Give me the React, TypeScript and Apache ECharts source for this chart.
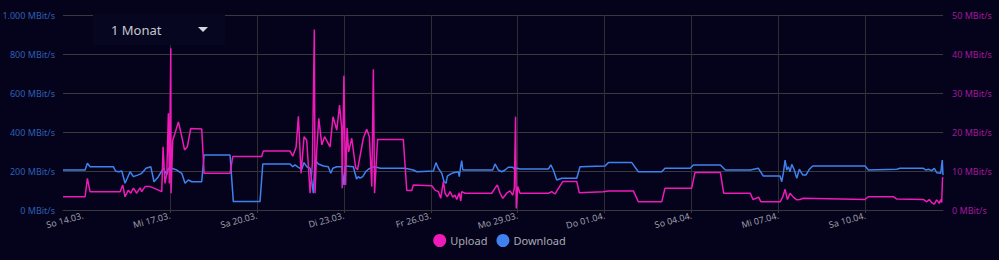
import React, { useEffect, useRef } from "react";
import * as echarts from "echarts";

// Time is measured in hours from So 14.03. 00:00
const xTickHours = [0, 72, 144, 216, 288, 360, 432, 504, 576, 648];
const xTickLabels = [
  "So 14.03.", "Mi 17.03.", "Sa 20.03.", "Di 23.03.", "Fr 26.03.",
  "Mo 29.03.", "Do 01.04.", "So 04.04.", "Mi 07.04.", "Sa 10.04.",
];
const rangeStart = -16.7;
const rangeEnd = 712.3;

// Download throughput, MBit/s (left axis)
const downloadTimes = [
  -16.7, 1.6, 3.5, 5.7, 25.0, 26.8, 29.2, 32.0, 34.7, 38.9, 41.6, 45.7, 48.5, 52.1, 56.0,
  58.7, 62.3, 66.4, 69.3, 70.6, 73.4, 77.5, 81.7, 84.4, 87.1, 90.0, 98.2, 100.2, 121.7,
  124.4, 146.5, 148.8, 171.4, 173.6, 175.5, 178.3, 181.1, 183.0, 185.2, 188.0, 190.7,
  192.1, 194.8, 199.0, 203.1, 205.1, 206.8, 210.1, 214.2, 216.1, 217.0, 223.8, 226.5,
  228.0, 229.4, 231.6, 234.0, 236.3, 239.1, 241.8, 246.0, 266.7, 273.5, 276.4, 290.1,
  292.3, 294.2, 297.1, 299.0, 300.6, 301.7, 304.5, 306.7, 310.8, 311.6, 312.8, 313.6,
  314.5, 339.3, 341.2, 344.0, 346.8, 349.5, 352.2, 355.9, 357.8, 359.2, 361.9, 385.4,
  387.4, 389.5, 392.3, 396.5, 408.9, 411.6, 432.3, 435.1, 454.5, 459.9, 479.3, 482.0,
  502.8, 505.5, 527.9, 532.0, 552.7, 559.3, 563.5, 577.3, 578.7, 580.0, 581.5, 582.9,
  584.2, 585.6, 587.0, 588.9, 591.2, 593.3, 594.5, 596.1, 598.9, 601.6, 604.4, 647.7,
  650.5, 674.0, 676.7, 696.0, 698.3, 700.2, 703.0, 705.1, 707.1, 710.4, 711.7, 712.3,
];
const downloadValues = [
  205, 205, 240, 222, 222, 200, 196, 200, 137, 196, 171, 180, 188, 214, 222,
  145, 171, 214, 180, 214, 214, 205, 188, 137, 154, 145, 145, 282, 282,
  43, 43, 236, 236, 222, 231, 219, 209, 243, 222, 214, 86,
  256, 236, 226, 222, 188, 214, 222, 222, 128, 226, 222, 159,
  171, 163, 171, 196, 209, 219, 222, 214, 214, 205, 196, 200,
  243, 214, 188, 145, 137, 174, 185, 191, 196, 171, 226, 253,
  205, 205, 236, 205, 196, 205, 219, 219, 205, 214, 210, 210,
  231, 205, 154, 163, 163, 222, 226, 243, 243, 196, 196, 214,
  214, 231, 231, 205, 205, 214, 174, 174, 145, 188, 256, 205,
  222, 196, 234, 209, 163, 209, 196, 180, 180, 209, 226, 226,
  205, 209, 214, 214, 205, 209, 202, 214, 191, 188, 256, 179,
];

// Upload throughput, MBit/s (right axis)
const uploadTimes = [
  -16.7, 1.6, 3.5, 5.7, 30.6, 32.8, 34.7, 37.4, 39.4, 41.6, 44.4, 47.1, 48.5, 51.3, 55.4,
  58.7, 62.3, 65.1, 66.2, 67.8, 69.3, 70.6, 71.4, 72.6, 72.8, 74.2, 76.1, 78.9, 81.7,
  84.0, 86.3, 89.1, 98.2, 100.2, 121.7, 123.9, 147.9, 149.2, 171.4, 173.6, 176.4, 178.3,
  180.5, 183.0, 185.2, 188.0, 189.9, 191.5, 192.1, 193.5, 195.2, 197.7, 200.0, 204.5,
  207.0, 210.1, 212.4, 214.2, 214.6, 216.0, 217.4, 218.6, 219.9, 222.5, 225.7, 227.3,
  232.1, 234.9, 237.1, 239.1, 240.4, 241.4, 243.9, 265.2, 268.1, 272.2, 273.5, 288.8,
  291.5, 294.3, 296.2, 298.4, 299.8, 301.7, 304.0, 306.2, 308.1, 309.5, 311.6, 312.8,
  313.6, 316.4, 338.5, 341.2, 343.1, 345.4, 347.6, 350.9, 353.6, 355.9, 357.2, 358.2,
  358.8, 360.0, 361.9, 385.4, 388.2, 390.9, 392.8, 397.3, 408.9, 411.0, 430.9, 435.1,
  455.8, 459.9, 479.3, 482.0, 504.1, 506.8, 527.9, 530.6, 552.7, 554.9, 557.6, 559.5,
  561.5, 577.3, 579.5, 581.5, 583.4, 585.6, 588.3, 591.2, 593.9, 596.6, 647.7, 650.5,
  671.2, 674.0, 696.0, 698.8, 700.9, 702.9, 705.1, 707.1, 709.2, 710.4, 711.2, 711.9,
  712.3,
];
const uploadValues = [
  3.4, 3.4, 8.1, 4.7, 4.7, 6.4, 3.4, 5.1, 4.3, 5.6, 4.3, 5.7, 4.7, 6.0, 6.0,
  5.6, 5.1, 4.7, 16.2, 6.8, 9.4, 24.8, 6.8, 41.5, 4.3, 17.9, 19.7, 22.6, 18.8,
  15.4, 16.2, 20.9, 20.8, 9.4, 9.4, 13.7, 13.7, 15.1, 15.1, 13.8, 16.1, 24.0,
  9.4, 18.8, 17.9, 4.3, 12.0, 46.3, 4.3, 15.4, 23.5, 16.7, 18.8, 16.2,
  23.9, 20.5, 26.9, 20.9, 5.6, 34.4, 6.4, 21.0, 14.9, 18.4, 10.9, 10.3,
  18.4, 20.7, 18.8, 6.0, 36.1, 4.3, 18.1, 18.1, 5.0, 5.0, 6.4, 6.2,
  5.1, 4.7, 3.0, 7.3, 4.3, 3.4, 4.7, 3.3, 3.8, 2.7, 4.4, 2.3,
  4.7, 4.3, 4.3, 5.6, 6.4, 4.3, 3.0, 4.3, 4.9, 3.8, 5.6, 23.9,
  0.4, 6.0, 4.3, 4.3, 4.7, 4.1, 5.1, 7.3, 7.3, 4.4, 4.7, 4.9,
  4.9, 2.1, 2.1, 5.6, 5.6, 9.6, 9.6, 4.3, 4.3, 2.7, 3.0, 3.3,
  2.1, 2.1, 3.3, 5.3, 2.7, 4.3, 3.3, 2.6, 2.7, 3.0, 2.7, 3.4,
  3.4, 2.8, 2.7, 2.1, 2.7, 1.9, 1.5, 2.6, 1.7, 2.7, 1.9, 8.1,
  8.4,
];

const BG = "#04031b";
const UPLOAD = "#ee1bb8";
const DOWNLOAD = "#3f82ee";
const GRID_LINE = "#393939";
const FONT = "'Noto Sans', sans-serif";

function mbit(v: number): string {
  const s = String(Math.round(v)).replace(/\B(?=(\d{3})+(?!\d))/g, ".");
  return s + " MBit/s";
}

function pairs(t: number[], v: number[]): [number, number][] {
  return t.map((h, i) => [h, v[i]]);
}

export default function App() {
  const ref = useRef<HTMLDivElement>(null);

  useEffect(() => {
    document.body.style.margin = "0";
    document.body.style.background = BG;
    if (!ref.current) return;
    const chart = echarts.init(ref.current, null, { renderer: "svg" });
    chart.setOption({
      animation: false,
      backgroundColor: BG,
      textStyle: { fontFamily: FONT },
      grid: { left: 63, right: 56, top: 15, bottom: 50, outerBoundsMode: "none" },
      legend: {
        data: ["Upload", "Download"],
        bottom: 8,
        left: "center",
        icon: "circle",
        itemWidth: 13,
        itemHeight: 13,
        itemGap: 9,
        textStyle: { color: "#a9a9b2", fontSize: 11, fontFamily: FONT, padding: [0, 0, 0, -1] },
      },
      xAxis: {
        type: "value",
        min: rangeStart,
        max: rangeEnd,
        axisLine: { show: true, lineStyle: { color: GRID_LINE } },
        axisTick: {
          show: true,
          length: 3,
          lineStyle: { color: GRID_LINE },
          customValues: xTickHours.slice(1),
        },
        splitLine: { show: true, lineStyle: { color: "#2e2e34", width: 1 } },
        axisLabel: {
          customValues: xTickHours,
          rotate: 15,
          margin: 5,
          color: "#9c9ca6",
          fontSize: 9,
          fontFamily: FONT,
          formatter: (v: number) => {
            const i = xTickHours.findIndex((h) => Math.abs(h - v) < 0.01);
            return i >= 0 ? xTickLabels[i] : "";
          },
        },
      },
      yAxis: [
        {
          type: "value",
          min: 0,
          max: 1000,
          interval: 200,
          axisLine: { show: false },
          axisTick: { show: false },
          splitLine: { show: true, lineStyle: { color: GRID_LINE, width: 1 } },
          axisLabel: { color: "#2f5fb4", fontSize: 9, fontFamily: FONT, margin: 8, formatter: mbit },
        },
        {
          type: "value",
          min: 0,
          max: 50,
          interval: 10,
          axisLine: { show: false },
          axisTick: { show: false },
          splitLine: { show: false },
          axisLabel: { color: "#a3189b", fontSize: 9, fontFamily: FONT, margin: 9, formatter: mbit },
        },
      ],
      series: [
        {
          name: "Download",
          type: "line",
          yAxisIndex: 0,
          data: pairs(downloadTimes, downloadValues),
          showSymbol: false,
          symbol: "none",
          lineStyle: { color: DOWNLOAD, width: 1.5 },
          itemStyle: { color: DOWNLOAD },
          z: 2,
        },
        {
          name: "Upload",
          type: "line",
          yAxisIndex: 1,
          data: pairs(uploadTimes, uploadValues),
          showSymbol: false,
          symbol: "none",
          lineStyle: { color: UPLOAD, width: 1.5 },
          itemStyle: { color: UPLOAD },
          z: 3,
        },
      ],
      graphic: [
        {
          type: "rect",
          z: 100,
          shape: { x: 93, y: 14, width: 132, height: 31 },
          style: { fill: "#070620" },
        },
        {
          type: "text",
          z: 101,
          x: 111,
          y: 30,
          style: {
            text: "1 Monat",
            fill: "#c6c6ce",
            fontSize: 13,
            fontFamily: FONT,
            verticalAlign: "middle",
          },
        },
        {
          type: "polygon",
          z: 101,
          shape: { points: [[198, 27], [208, 27], [203, 32]] },
          style: { fill: "#d6d6de" },
        },
      ],
    });
    return () => chart.dispose();
  }, []);

  return (
    <div
      ref={ref}
      style={{ position: "fixed", left: 0, top: 0, width: 999, height: 260, background: BG }}
    />
  );
}
